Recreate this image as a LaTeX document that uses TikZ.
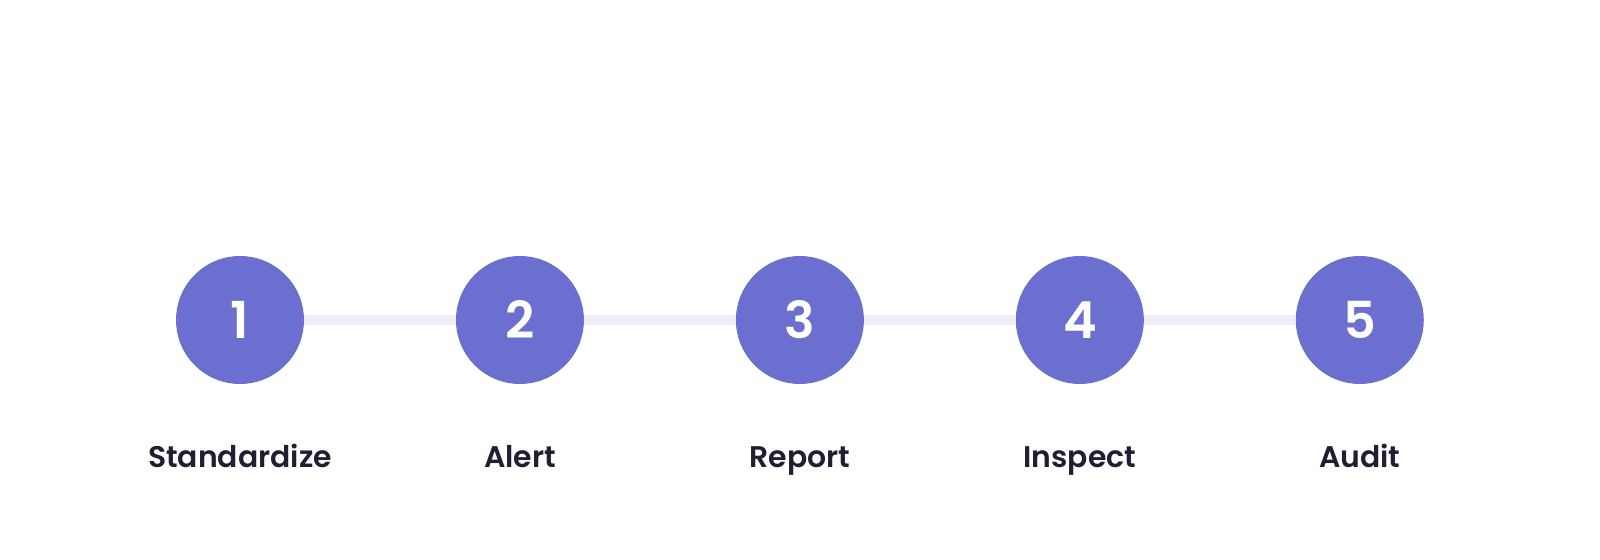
\documentclass[tikz,border=0pt]{standalone}
\usepackage{fontspec}
\setmainfont{Poppins}[BoldFont={Poppins SemiBold}]
\usetikzlibrary{positioning}

\definecolor{stepfill}{HTML}{6B6FCF}
\definecolor{trackline}{HTML}{EEEFF9}
\definecolor{captiontext}{HTML}{1E1F33}

\begin{document}
\begin{tikzpicture}[x=0.02cm,y=-0.02cm,node distance=5.6cm,
    stepdot/.style={circle,fill=stepfill,minimum size=2.56cm,inner sep=0pt,
        text=white,font=\fontsize{29}{29}\selectfont\bfseries},
    caption/.style={anchor=base,text=captiontext,font=\fontsize{17}{17}\selectfont\bfseries},
    track/.style={draw=trackline,line width=0.2cm}]
    \useasboundingbox[fill=white] (0,0) rectangle (1600,560);

    \node[stepdot] (s1) at (240,320) {1};
    \node[stepdot] (s2) [right of=s1] {2};
    \node[stepdot] (s3) [right of=s2] {3};
    \node[stepdot] (s4) [right of=s3] {4};
    \node[stepdot] (s5) [right of=s4] {5};

    \path[track] (s1) -- (s2);
    \path[track] (s2) -- (s3);
    \path[track] (s3) -- (s4);
    \path[track] (s4) -- (s5);

    \node[caption] (c1) at ([yshift=-2.95cm]s1.center) {Standardize};
    \node[caption] (c2) at ([yshift=-2.95cm]s2.center) {Alert};
    \node[caption] (c3) at ([yshift=-2.95cm]s3.center) {Report};
    \node[caption] (c4) at ([yshift=-2.95cm]s4.center) {Inspect};
    \node[caption] (c5) at ([yshift=-2.95cm]s5.center) {Audit};
\end{tikzpicture}
\end{document}
